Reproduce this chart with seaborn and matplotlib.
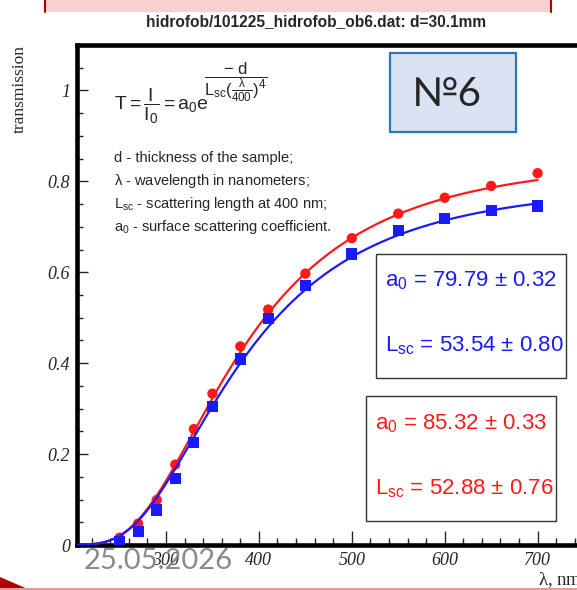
import numpy as np
import pandas as pd
import seaborn as sns
import matplotlib
matplotlib.use("Agg")
import matplotlib.pyplot as plt
from matplotlib.patches import Rectangle, Polygon
from matplotlib.ticker import MultipleLocator, FuncFormatter

# measured transmission of sample ob6 (d = 30.1 mm)
wavelength = [250, 270, 290, 310, 330, 350, 380, 410, 450, 500, 550, 600, 650, 700]
trans_red = [0.016, 0.047, 0.099, 0.177, 0.255, 0.333, 0.437, 0.518, 0.597, 0.675,
             0.729, 0.764, 0.790, 0.818]
trans_blue = [0.008, 0.029, 0.077, 0.147, 0.225, 0.305, 0.409, 0.499, 0.571, 0.640,
              0.692, 0.718, 0.736, 0.746]

# fit parameters  T = a0 * exp(-d / (Lsc * (lambda/400)^4))
thickness = 30.1
fit_red = {"a0": 85.32, "a0_err": 0.33, "Lsc": 52.88, "Lsc_err": 0.76}
fit_blue = {"a0": 79.79, "a0_err": 0.32, "Lsc": 53.54, "Lsc_err": 0.80}

x_ticks = [300, 400, 500, 600, 700]
y_ticks = [0, 0.2, 0.4, 0.6, 0.8, 1.0]

title = "hidrofob/101225_hidrofob_ob6.dat: d=30.1mm"
legend_lines = ["d - thickness of the sample;",
                r"$\lambda$ - wavelength in nanometers;",
                r"L$_{sc}$ - scattering length at 400 nm;",
                r"a$_0$ - surface scattering coefficient."]

sns.set_style("white")
plt.rcParams["font.family"] = ["Liberation Sans", "DejaVu Sans"]
plt.rcParams["mathtext.fontset"] = "custom"
plt.rcParams["mathtext.rm"] = "Liberation Sans"
plt.rcParams["mathtext.it"] = "Liberation Sans:italic"
plt.rcParams["mathtext.default"] = "regular"

W, H = 577, 590
fig = plt.figure(figsize=(W / 100, H / 100), dpi=100)


def fx(x):
    return x / W


def fy(y):
    return 1 - y / H


def model(lam, p):
    lam = np.asarray(lam, dtype=float)
    return p["a0"] / 100.0 * np.exp(-thickness / (p["Lsc"] * (lam / 400.0) ** 4))


ax = fig.add_axes([fx(77), fy(545), (590 - 77) / W, (545 - 45) / H])
ax.set_xlim(204.2, 756.4)
ax.set_ylim(0, 1.1)

lam_fit = np.linspace(204.2, 700, 400)
df_fit = pd.concat([
    pd.DataFrame({"lam": lam_fit, "T": model(lam_fit, fit_red), "set": "red"}),
    pd.DataFrame({"lam": lam_fit, "T": model(lam_fit, fit_blue), "set": "blue"}),
])
df_pts = pd.concat([
    pd.DataFrame({"lam": wavelength, "T": trans_red, "set": "red"}),
    pd.DataFrame({"lam": wavelength, "T": trans_blue, "set": "blue"}),
])
pal = {"red": "#ff1a1a", "blue": "#1a1aff"}

sns.lineplot(data=df_fit[df_fit["set"] == "red"], x="lam", y="T", color=pal["red"],
             lw=1.6, ax=ax, zorder=3)
sns.scatterplot(data=df_pts[df_pts["set"] == "red"], x="lam", y="T", color=pal["red"],
                marker="o", s=55, edgecolor="none", ax=ax, zorder=4)
sns.lineplot(data=df_fit[df_fit["set"] == "blue"], x="lam", y="T", color=pal["blue"],
             lw=1.6, ax=ax, zorder=5)
sns.scatterplot(data=df_pts[df_pts["set"] == "blue"], x="lam", y="T", color=pal["blue"],
                marker="s", s=65, edgecolor="none", ax=ax, zorder=6)

ax.set_xlabel("")
ax.set_ylabel("")
for s in ax.spines.values():
    s.set_linewidth(3.3)
    s.set_color("black")

ax.xaxis.set_minor_locator(MultipleLocator(20))
ax.yaxis.set_minor_locator(MultipleLocator(0.05))
ax.set_xticks(x_ticks)
ax.set_yticks(y_ticks)
ax.yaxis.set_major_formatter(FuncFormatter(lambda v, p: f"{v:g}"))
ax.tick_params(axis="x", which="major", direction="in", length=10, width=1.0,
               bottom=True, top=False, pad=5)
ax.tick_params(axis="x", which="minor", direction="in", length=5, width=1.0,
               bottom=True, top=False)
ax.tick_params(axis="y", which="major", direction="in", length=8, width=1.0,
               left=True, right=False, pad=5)
ax.tick_params(axis="y", which="minor", direction="in", length=4.5, width=1.0,
               left=True, right=False)
for lab in ax.get_xticklabels() + ax.get_yticklabels():
    lab.set_fontfamily("Liberation Serif")
    lab.set_fontstyle("italic")
    lab.set_fontsize(13)

# axis titles
fig.text(fx(20), fy(45), "transmission", rotation=90, ha="center", va="top",
         family="Liberation Serif", fontsize=12.5)
fig.text(fx(582), fy(580), r"$\lambda$, nm", ha="right", va="center",
         family="Liberation Serif", fontsize=13.5)

# title with header band
fig.patches.append(Rectangle((fx(45), fy(12)), (552 - 45) / W, 12 / H,
                             transform=fig.transFigure, facecolor="#f9d0d0",
                             edgecolor="none"))
for xe in (45, 551):
    fig.lines.append(plt.Line2D([fx(xe), fx(xe)], [fy(0), fy(12)],
                                transform=fig.transFigure, color="#b00000", lw=1.5))
fig.text(fx(316), fy(22), title, ha="center", va="center", fontsize=11.2,
         fontweight="bold")

# model formula
fig.text(fx(114), fy(106), r"$T{=}\dfrac{I}{I_0}{=}a_0e$", ha="left",
         va="center", fontsize=14)
fig.text(fx(236), fy(82), r"$\dfrac{-\ d}{L_{sc}(\frac{\lambda}{400})^4}$",
         ha="center", va="center", fontsize=12)
for i, line in enumerate(legend_lines):
    fig.text(fx(114), fy(158 + 23 * i), line, ha="left", va="center", fontsize=10.5)

# sample number badge
fig.patches.append(Rectangle((fx(389.5), fy(131.5)), 126 / W, 79 / H,
                             transform=fig.transFigure, facecolor="#dae3f3",
                             edgecolor="#2e75b6", lw=1.6))
fig.text(fx(447), fy(95), "№6", ha="center", va="center", fontsize=29,
         family=["Lato", "DejaVu Sans"])


# fit result boxes
def stat_box(x0, y0, x1, y1, p, color, tx, ty1, ty2):
    fig.patches.append(Rectangle((fx(x0), fy(y1)), (x1 - x0) / W, (y1 - y0) / H,
                                 transform=fig.transFigure, facecolor="white",
                                 edgecolor="#333333", lw=1.0, zorder=10))
    fig.text(fx(tx), fy(ty1),
             rf"a$_0$ = {p['a0']:.2f} $\pm$ {p['a0_err']:.2f}",
             ha="left", va="center", fontsize=16, color=color, zorder=11)
    fig.text(fx(tx), fy(ty2),
             rf"L$_{{sc}}$ = {p['Lsc']:.2f} $\pm$ {p['Lsc_err']:.2f}",
             ha="left", va="center", fontsize=16, color=color, zorder=11)


stat_box(376, 254, 566, 378, fit_blue, "#1a1aff", 385, 281, 346)
stat_box(365.5, 396, 556, 521, fit_red, "#ff1a1a", 375, 424, 489)

# date stamp and slide decoration
fig.text(fx(84), fy(561), "25.05.2026", ha="left", va="center", fontsize=21,
         color="#8a8a8a", family=["Lato", "DejaVu Sans"], zorder=12)
fig.lines.append(plt.Line2D([0, 1], [fy(588.5), fy(588.5)], transform=fig.transFigure,
                            color="#e49a9a", lw=1.5))
fig.patches.append(Polygon([(0, fy(577)), (fx(30), fy(590)), (0, fy(590))],
                           closed=True, transform=fig.transFigure,
                           facecolor="#b00000", edgecolor="none"))

fig.savefig("out.png", dpi=100)
